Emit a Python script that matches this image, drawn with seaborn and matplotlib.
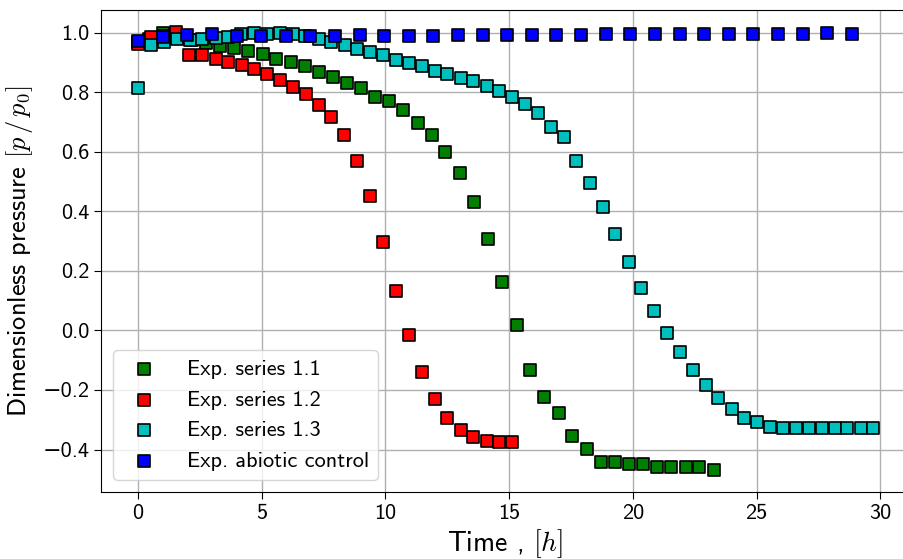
import matplotlib
matplotlib.use("Agg")
import matplotlib.pyplot as plt
import seaborn as sns
import pandas as pd

# Time [h] and dimensionless pressure p/p0 for each experiment
t_s11 = [0, 0.46, 1.03, 1.60, 2.17, 2.75, 3.33, 3.89, 4.47, 5.04, 5.60, 6.17, 6.75, 7.31,
         7.88, 8.44, 9.02, 9.59, 10.15, 10.73, 11.30, 11.87, 12.43, 13.01, 13.58, 14.15,
         14.72, 15.30, 15.85, 16.43, 17.00, 17.56, 18.14, 18.71, 19.27, 19.84, 20.40,
         20.98, 21.55, 22.13, 22.69, 23.26]
p_s11 = [0.97, 0.98, 1.0, 0.985, 0.974, 0.964, 0.955, 0.947, 0.938, 0.929, 0.913, 0.902,
         0.888, 0.868, 0.850, 0.831, 0.813, 0.785, 0.770, 0.739, 0.698, 0.656, 0.600,
         0.527, 0.431, 0.307, 0.163, 0.017, -0.132, -0.224, -0.279, -0.355, -0.398,
         -0.443, -0.442, -0.449, -0.449, -0.460, -0.460, -0.460, -0.460, -0.469]

t_s12 = [0, 0.52, 1.04, 1.56, 2.07, 2.61, 3.14, 3.66, 4.19, 4.70, 5.23, 5.74, 6.26, 6.79,
         7.30, 7.82, 8.34, 8.86, 9.37, 9.91, 10.44, 10.95, 11.47, 11.99, 12.51, 13.04,
         13.55, 14.09, 14.60, 15.12]
p_s12 = [0.963, 0.984, 0.99, 1.002, 0.926, 0.926, 0.913, 0.903, 0.892, 0.877, 0.861,
         0.842, 0.818, 0.793, 0.758, 0.716, 0.656, 0.570, 0.451, 0.297, 0.132, -0.017,
         -0.140, -0.230, -0.295, -0.336, -0.358, -0.373, -0.375, -0.375]

t_s13 = [0, 0.52, 1.05, 1.58, 2.10, 2.61, 3.14, 3.66, 4.17, 4.69, 5.21, 5.74, 6.25, 6.77,
         7.30, 7.82, 8.35, 8.86, 9.39, 9.91, 10.42, 10.96, 11.49, 12.00, 12.51, 13.04,
         13.56, 14.09, 14.60, 15.12, 15.65, 16.16, 16.69, 17.21, 17.72, 18.25, 18.78,
         19.29, 19.83, 20.34, 20.86, 21.37, 21.90, 22.41, 22.94, 23.46, 23.99, 24.51,
         25.02, 25.54, 26.07, 26.59, 27.11, 27.64, 28.16, 28.67, 29.20, 29.71]
p_s13 = [0.813, 0.957, 0.970, 0.977, 0.974, 0.979, 0.983, 0.986, 0.994, 0.998,
         0.995, 0.999, 0.995, 0.989, 0.979, 0.968, 0.957, 0.945, 0.935, 0.924,
         0.909, 0.899, 0.889, 0.872, 0.860, 0.848, 0.838, 0.821, 0.803, 0.785,
         0.760, 0.730, 0.684, 0.648, 0.570, 0.496, 0.413, 0.323, 0.231, 0.142,
         0.066, -0.010, -0.073, -0.132, -0.185, -0.227, -0.264, -0.294, -0.309, -0.323,
         -0.328, -0.328, -0.328, -0.328, -0.328, -0.328, -0.328, -0.328]

t_ctrl = [0, 1.0, 2.0, 3.0, 4.0, 4.98, 5.97, 6.96, 7.96, 8.96, 9.95, 10.95, 11.93, 12.93,
          13.93, 14.92, 15.92, 16.90, 17.92, 18.91, 19.89, 20.90, 21.89, 22.88, 23.88,
          24.86, 25.86, 26.86, 27.85, 28.85]
p_ctrl = [0.971, 0.987, 0.992, 0.995, 0.989, 0.990, 0.989, 0.990, 0.989, 0.992, 0.990,
          0.990, 0.990, 0.992, 0.992, 0.993, 0.992, 0.993, 0.992, 0.994, 0.996, 0.996,
          0.996, 0.996, 0.996, 0.997, 0.997, 0.995, 0.998, 0.996]

series_labels = ["Exp. series 1.1", "Exp. series 1.2", "Exp. series 1.3",
                 "Exp. abiotic control"]
series_colors = ["g", "r", "c", "b"]

plt.rcParams["font.family"] = ["cmss10", "DejaVu Sans"]
plt.rcParams["mathtext.fontset"] = "cm"
plt.rcParams["axes.unicode_minus"] = True

fig = plt.figure(figsize=(9.04, 5.59), dpi=100)
ax = fig.add_axes([0.1117, 0.1199, 0.895, 0.862])

series = [(t_s11, p_s11), (t_s12, p_s12), (t_s13, p_s13), (t_ctrl, p_ctrl)]
for (t, p), lab, col in zip(series, series_labels, series_colors):
    df = pd.DataFrame({"time": t, "pressure": p})
    sns.scatterplot(data=df, x="time", y="pressure", ax=ax, marker="s", s=70,
                    color=col, edgecolor="k", linewidth=1.2, label=lab, zorder=3)

ax.set_xlim(-1.49, 31.2)
ax.set_ylim(-0.5426, 1.0756)
ax.set_xticks([0, 5, 10, 15, 20, 25, 30])
ax.set_yticks([-0.4, -0.2, 0.0, 0.2, 0.4, 0.6, 0.8, 1.0])
ax.grid(True, color="#b0b0b0", linewidth=1.0)
ax.set_axisbelow(True)
ax.tick_params(labelsize=16, length=5)
for sp in ax.spines.values():
    sp.set_color("black")

ax.set_xlabel(r"Time , $[h]$", fontsize=20, labelpad=3)
ax.set_ylabel(r"Dimensionless pressure $[p\,/\,p_0]$", fontsize=19, labelpad=5)

ax.legend(loc="lower left", fontsize=16, handletextpad=0.9, borderaxespad=0.55,
          scatterpoints=1, labelspacing=0.5)

fig.savefig("out.png", dpi=100)
